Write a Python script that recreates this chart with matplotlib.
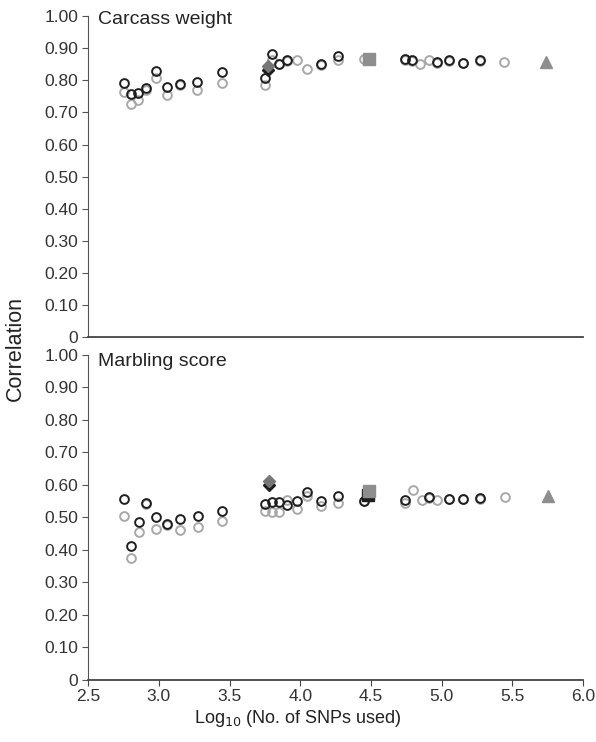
#Python code to plot genomic prediction correlation vs number of SNPs
import matplotlib.pyplot as plt
import numpy as np

plt.rcParams['font.family'] = ['Liberation Sans', 'DejaVu Sans']

nan = np.nan

#Carcass weight
cw_x = [2.75, 2.80, 2.85, 2.91, 2.98, 3.06, 3.15, 3.27, 3.45, 3.75, 3.80, 3.85, 3.91, 3.98,
        4.05, 4.15, 4.27, 4.45, 4.74, 4.79, 4.85, 4.91, 4.97, 5.05, 5.15, 5.27, 5.44]
cw_black = [0.792, 0.759, 0.761, 0.777, 0.830, 0.779, 0.789, 0.795, 0.825, 0.808, 0.881, 0.852, 0.865, nan,
            nan, 0.852, 0.876, nan, 0.868, 0.865, nan, nan, 0.858, 0.863, 0.855, 0.863, nan]
cw_gray = [0.764, 0.728, 0.738, 0.770, 0.808, 0.756, 0.785, 0.769, 0.792, 0.785, 0.865, 0.850, 0.862, 0.865,
           0.835, 0.848, 0.863, 0.868, 0.865, 0.862, 0.850, 0.865, 0.855, 0.860, 0.855, 0.860, 0.858]
cw_diamond = (3.775, 0.846)
cw_square = (4.49, 0.868)
cw_triangle = (5.74, 0.856)

#Marbling score
ms_x = [2.75, 2.80, 2.86, 2.91, 2.98, 3.06, 3.15, 3.28, 3.45, 3.75, 3.80, 3.85, 3.91, 3.98,
        4.05, 4.15, 4.27, 4.45, 4.74, 4.80, 4.86, 4.91, 4.97, 5.05, 5.15, 5.27, 5.45]
ms_black = [0.555, 0.412, 0.484, 0.545, 0.502, 0.480, 0.495, 0.505, 0.520, 0.541, 0.547, 0.546, 0.536, 0.549,
            0.576, 0.551, 0.564, 0.551, 0.554, nan, nan, 0.562, nan, 0.556, 0.556, 0.559, nan]
ms_gray = [0.505, 0.374, 0.453, 0.540, 0.465, 0.475, 0.459, 0.470, 0.487, 0.518, 0.515, 0.515, 0.554, 0.525,
           0.566, 0.533, 0.544, 0.550, 0.544, 0.585, 0.554, 0.560, 0.554, 0.555, 0.555, 0.557, 0.561]
ms_diamond = (3.78, 0.612)
ms_square = (4.49, 0.579)
ms_triangle = (5.75, 0.564)

yticks = np.arange(0, 1.01, 0.1)
ytick_labels = ['0'] + ['%.2f' % v for v in yticks[1:]]
xticks = [2.5, 3.0, 3.5, 4.0, 4.5, 5.0, 5.5, 6.0]

fig = plt.figure(figsize=(5.96, 7.42), dpi=100)
ax1 = fig.add_axes([0.148, 0.546, 0.83, 0.432])
ax2 = fig.add_axes([0.148, 0.084, 0.83, 0.438])

black = '#1e1e1e'
gray = '#a8a8a8'
mgray = '#8e8e8e'

panels = [(ax1, 'Carcass weight', cw_x, cw_black, cw_gray, cw_diamond, cw_square, cw_triangle, 0.99, False),
          (ax2, 'Marbling score', ms_x, ms_black, ms_gray, ms_diamond, ms_square, ms_triangle, 0.978, True)]

for ax, title, x, yb, yg, dia, sq, tri, ty, sq_shadow in panels:
    ax.plot(x, yg, 'o', ms=6.3, mfc='none', mec=gray, mew=1.4, ls='none')
    ax.plot(x, yb, 'o', ms=6.3, mfc='none', mec=black, mew=1.4, ls='none')
    ax.plot(dia[0], dia[1] - 0.012, 'D', ms=6.5, color=black)
    ax.plot(dia[0], dia[1], 'D', ms=6.5, color='#777777')
    if sq_shadow:
        ax.plot(sq[0] - 0.01, sq[1] - 0.01, 's', ms=8.5, color=black)
    ax.plot(sq[0], sq[1], 's', ms=8.5, color=mgray)
    ax.plot(tri[0], tri[1], '^', ms=9, color=mgray)

    ax.set_xlim(2.5, 6.0)
    ax.set_ylim(0, 1.0)
    ax.set_yticks(yticks)
    ax.set_yticklabels(ytick_labels, fontsize=12.5, color='#333333')
    ax.spines['top'].set_visible(False)
    ax.spines['right'].set_visible(False)
    ax.spines['left'].set_color('#555555')
    ax.spines['bottom'].set_color('#444444')
    ax.spines['bottom'].set_linewidth(1.3)
    ax.tick_params(axis='y', direction='out', length=4, color='#555555', pad=3)
    ax.text(0.02, ty, title, transform=ax.transAxes, fontsize=14, va='center', ha='left', color='#222222')

ax1.set_xticks([])
ax2.set_xticks(xticks)
ax2.set_xticklabels(['%.1f' % v for v in xticks], fontsize=12.5, color='#333333')
ax2.tick_params(axis='x', direction='out', length=4, color='#444444', pad=3)

fig.text(0.026, 0.53, 'Correlation', rotation=90, fontsize=15.5, va='center', ha='center', color='#222222')
fig.text(0.5, 0.032, 'Log$_{10}$ (No. of SNPs used)', fontsize=13, va='center', ha='center', color='#222222')

plt.savefig('out.png', dpi=100)
